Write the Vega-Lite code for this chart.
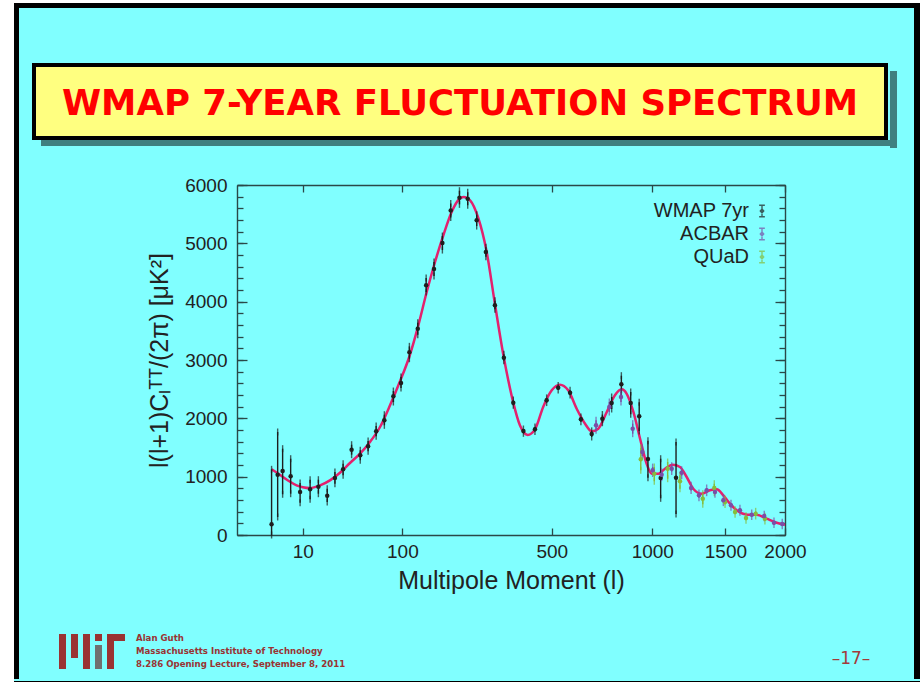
{
  "$schema": "https://vega.github.io/schema/vega-lite/v6.json",
  "background": "#80FFFF",
  "padding": 0,
  "config": {
    "view": {"stroke": null},
    "concat": {"spacing": 0},
    "font": "Liberation Sans",
    "axis": {
      "labelFont": "Liberation Sans", "labelFontSize": 19, "labelColor": "#222222",
      "titleFont": "Liberation Sans", "titleFontSize": 25, "titleFontWeight": "normal", "titleColor": "#222222",
      "grid": false, "domain": false, "domainColor": "#2a4848", "domainWidth": 1.4,
      "tickColor": "#2a4848", "tickWidth": 1.3, "labelFlush": false, "labelOverlap": false
    }
  },
  "datasets": {
    "blank": [{}],
    "title": [{"label": "WMAP 7-YEAR FLUCTUATION SPECTRUM"}],
    "foot": [{"label": "Alan Guth\nMassachusetts Institute of Technology\n8.286 Opening Lecture, September 8, 2011"}],
    "page": [{"label": "–17–"}],
    "curve": [
      {"l": 2, "v": 1126}, {"l": 4, "v": 1000}, {"l": 5.5, "v": 925}, {"l": 7.8, "v": 852}, {"l": 10, "v": 820},
      {"l": 13, "v": 806}, {"l": 17.9, "v": 852}, {"l": 23.7, "v": 937}, {"l": 30.6, "v": 1068}, {"l": 38.6, "v": 1234},
      {"l": 47.8, "v": 1394}, {"l": 58, "v": 1594}, {"l": 69.6, "v": 1851}, {"l": 82.4, "v": 2223}, {"l": 96.5, "v": 2635},
      {"l": 111, "v": 3060}, {"l": 126, "v": 3594}, {"l": 141, "v": 4165}, {"l": 157, "v": 4680}, {"l": 174, "v": 5137},
      {"l": 192, "v": 5536}, {"l": 210, "v": 5764}, {"l": 220, "v": 5795}, {"l": 236, "v": 5737}, {"l": 257, "v": 5440},
      {"l": 280, "v": 4860}, {"l": 304, "v": 3960}, {"l": 329, "v": 3100}, {"l": 345, "v": 2650}, {"l": 361, "v": 2270},
      {"l": 383, "v": 1880}, {"l": 410, "v": 1715}, {"l": 436, "v": 1810}, {"l": 467, "v": 2200}, {"l": 500, "v": 2480},
      {"l": 533, "v": 2575}, {"l": 568, "v": 2480}, {"l": 605, "v": 2165}, {"l": 643, "v": 1908}, {"l": 674, "v": 1777},
      {"l": 706, "v": 1823}, {"l": 748, "v": 2109}, {"l": 790, "v": 2395}, {"l": 826, "v": 2497}, {"l": 853, "v": 2420},
      {"l": 890, "v": 2109}, {"l": 928, "v": 1651}, {"l": 963, "v": 1251}, {"l": 996, "v": 1051}, {"l": 1037, "v": 1051},
      {"l": 1078, "v": 1137}, {"l": 1127, "v": 1205}, {"l": 1175, "v": 1166}, {"l": 1220, "v": 994}, {"l": 1265, "v": 794},
      {"l": 1324, "v": 708}, {"l": 1384, "v": 766}, {"l": 1434, "v": 783}, {"l": 1484, "v": 680}, {"l": 1535, "v": 537},
      {"l": 1588, "v": 423}, {"l": 1677, "v": 348}, {"l": 1752, "v": 348}, {"l": 1837, "v": 280}, {"l": 1925, "v": 211},
      {"l": 2000, "v": 177}
    ],
    "pts": [
      {"exp": "WMAP 7yr", "l": 2, "v": 183, "lo": 0, "hi": 1126},
      {"exp": "WMAP 7yr", "l": 3, "v": 1034, "lo": 309, "hi": 1766},
      {"exp": "WMAP 7yr", "l": 4, "v": 1097, "lo": 698, "hi": 1480},
      {"exp": "WMAP 7yr", "l": 6, "v": 1006, "lo": 708, "hi": 1308},
      {"exp": "WMAP 7yr", "l": 9, "v": 737, "lo": 554, "hi": 891},
      {"exp": "WMAP 7yr", "l": 13, "v": 783, "lo": 612, "hi": 948},
      {"exp": "WMAP 7yr", "l": 17, "v": 828, "lo": 708, "hi": 948},
      {"exp": "WMAP 7yr", "l": 22, "v": 674, "lo": 566, "hi": 794},
      {"exp": "WMAP 7yr", "l": 27, "v": 977, "lo": 879, "hi": 1080},
      {"exp": "WMAP 7yr", "l": 33, "v": 1126, "lo": 1023, "hi": 1222},
      {"exp": "WMAP 7yr", "l": 40, "v": 1463, "lo": 1377, "hi": 1548},
      {"exp": "WMAP 7yr", "l": 48, "v": 1366, "lo": 1280, "hi": 1452},
      {"exp": "WMAP 7yr", "l": 56, "v": 1520, "lo": 1435, "hi": 1611},
      {"exp": "WMAP 7yr", "l": 65, "v": 1777, "lo": 1692, "hi": 1868},
      {"exp": "WMAP 7yr", "l": 75, "v": 1966, "lo": 1880, "hi": 2062},
      {"exp": "WMAP 7yr", "l": 87, "v": 2377, "lo": 2280, "hi": 2468},
      {"exp": "WMAP 7yr", "l": 98, "v": 2605, "lo": 2520, "hi": 2708},
      {"exp": "WMAP 7yr", "l": 111, "v": 3131, "lo": 3022, "hi": 3234},
      {"exp": "WMAP 7yr", "l": 125, "v": 3537, "lo": 3434, "hi": 3640},
      {"exp": "WMAP 7yr", "l": 140, "v": 4280, "lo": 4165, "hi": 4405},
      {"exp": "WMAP 7yr", "l": 155, "v": 4560, "lo": 4440, "hi": 4680},
      {"exp": "WMAP 7yr", "l": 172, "v": 5005, "lo": 4885, "hi": 5125},
      {"exp": "WMAP 7yr", "l": 190, "v": 5565, "lo": 5445, "hi": 5685},
      {"exp": "WMAP 7yr", "l": 210, "v": 5781, "lo": 5668, "hi": 5902},
      {"exp": "WMAP 7yr", "l": 230, "v": 5764, "lo": 5651, "hi": 5874},
      {"exp": "WMAP 7yr", "l": 253, "v": 5394, "lo": 5296, "hi": 5490},
      {"exp": "WMAP 7yr", "l": 278, "v": 4851, "lo": 4770, "hi": 4931},
      {"exp": "WMAP 7yr", "l": 304, "v": 3937, "lo": 3869, "hi": 4017},
      {"exp": "WMAP 7yr", "l": 331, "v": 3039, "lo": 2987, "hi": 3097},
      {"exp": "WMAP 7yr", "l": 361, "v": 2268, "lo": 2223, "hi": 2314},
      {"exp": "WMAP 7yr", "l": 395, "v": 1783, "lo": 1743, "hi": 1817},
      {"exp": "WMAP 7yr", "l": 436, "v": 1812, "lo": 1775, "hi": 1850},
      {"exp": "WMAP 7yr", "l": 480, "v": 2309, "lo": 2270, "hi": 2350},
      {"exp": "WMAP 7yr", "l": 526, "v": 2525, "lo": 2485, "hi": 2565},
      {"exp": "WMAP 7yr", "l": 576, "v": 2440, "lo": 2400, "hi": 2480},
      {"exp": "WMAP 7yr", "l": 624, "v": 1983, "lo": 1940, "hi": 2025},
      {"exp": "WMAP 7yr", "l": 674, "v": 1731, "lo": 1680, "hi": 1785},
      {"exp": "WMAP 7yr", "l": 726, "v": 1994, "lo": 1925, "hi": 2065},
      {"exp": "WMAP 7yr", "l": 773, "v": 2263, "lo": 2160, "hi": 2366},
      {"exp": "WMAP 7yr", "l": 824, "v": 2583, "lo": 2434, "hi": 2731},
      {"exp": "WMAP 7yr", "l": 875, "v": 2263, "lo": 2069, "hi": 2451},
      {"exp": "WMAP 7yr", "l": 923, "v": 2034, "lo": 1783, "hi": 2275},
      {"exp": "WMAP 7yr", "l": 974, "v": 1303, "lo": 982, "hi": 1616},
      {"exp": "WMAP 7yr", "l": 1051, "v": 977, "lo": 629, "hi": 1308},
      {"exp": "WMAP 7yr", "l": 1149, "v": 982, "lo": 360, "hi": 1594},
      {"exp": "QUaD", "l": 932, "v": 1297, "lo": 1109, "hi": 1497},
      {"exp": "QUaD", "l": 1012, "v": 1051, "lo": 920, "hi": 1166},
      {"exp": "QUaD", "l": 1095, "v": 1137, "lo": 965, "hi": 1251},
      {"exp": "QUaD", "l": 1175, "v": 920, "lo": 794, "hi": 1023},
      {"exp": "QUaD", "l": 1332, "v": 622, "lo": 526, "hi": 708},
      {"exp": "QUaD", "l": 1416, "v": 806, "lo": 725, "hi": 879},
      {"exp": "QUaD", "l": 1497, "v": 566, "lo": 521, "hi": 611},
      {"exp": "QUaD", "l": 1575, "v": 394, "lo": 354, "hi": 434},
      {"exp": "QUaD", "l": 1663, "v": 291, "lo": 251, "hi": 331},
      {"exp": "QUaD", "l": 1743, "v": 366, "lo": 326, "hi": 406},
      {"exp": "QUaD", "l": 1822, "v": 280, "lo": 240, "hi": 320},
      {"exp": "ACBAR", "l": 695, "v": 1880, "lo": 1794, "hi": 1966},
      {"exp": "ACBAR", "l": 761, "v": 2194, "lo": 2108, "hi": 2280},
      {"exp": "ACBAR", "l": 822, "v": 2366, "lo": 2280, "hi": 2452},
      {"exp": "ACBAR", "l": 886, "v": 1823, "lo": 1737, "hi": 1909},
      {"exp": "ACBAR", "l": 941, "v": 1423, "lo": 1353, "hi": 1493},
      {"exp": "ACBAR", "l": 1002, "v": 1109, "lo": 1054, "hi": 1164},
      {"exp": "ACBAR", "l": 1057, "v": 1034, "lo": 984, "hi": 1084},
      {"exp": "ACBAR", "l": 1121, "v": 1137, "lo": 1087, "hi": 1187},
      {"exp": "ACBAR", "l": 1186, "v": 1069, "lo": 1019, "hi": 1119},
      {"exp": "ACBAR", "l": 1250, "v": 806, "lo": 761, "hi": 851},
      {"exp": "ACBAR", "l": 1305, "v": 680, "lo": 640, "hi": 720},
      {"exp": "ACBAR", "l": 1360, "v": 766, "lo": 726, "hi": 806},
      {"exp": "ACBAR", "l": 1421, "v": 737, "lo": 697, "hi": 777},
      {"exp": "ACBAR", "l": 1484, "v": 595, "lo": 555, "hi": 635},
      {"exp": "ACBAR", "l": 1543, "v": 509, "lo": 474, "hi": 544},
      {"exp": "ACBAR", "l": 1614, "v": 423, "lo": 388, "hi": 458},
      {"exp": "ACBAR", "l": 1710, "v": 348, "lo": 318, "hi": 378},
      {"exp": "ACBAR", "l": 1816, "v": 326, "lo": 296, "hi": 356},
      {"exp": "ACBAR", "l": 1901, "v": 211, "lo": 181, "hi": 241},
      {"exp": "ACBAR", "l": 1975, "v": 189, "lo": 159, "hi": 219}
    ]
  },
  "spacing": 0,
  "hconcat": [
    {"width": 14, "height": 682, "data": {"name": "blank"}, "view": {"fill": "#FFFFFF"}, "mark": {"type": "point", "size": 0, "opacity": 0, "strokeWidth": 0}},
    {
      "spacing": 0,
      "vconcat": [
        {"width": 906, "height": 3, "data": {"name": "blank"}, "view": {"fill": "#FFFFFF"}, "mark": {"type": "point", "size": 0, "opacity": 0, "strokeWidth": 0}},
        {"width": 906, "height": 5, "data": {"name": "blank"}, "view": {"fill": "#000000"}, "mark": {"type": "point", "size": 0, "opacity": 0, "strokeWidth": 0}},
        {
          "spacing": 0,
          "hconcat": [
            {"width": 5, "height": 671, "data": {"name": "blank"}, "view": {"fill": "#000000"}, "mark": {"type": "point", "size": 0, "opacity": 0, "strokeWidth": 0}},
            {
              "spacing": 0,
              "vconcat": [
                {"width": 895, "height": 55, "data": {"name": "blank"}, "mark": {"type": "point", "size": 0, "opacity": 0, "strokeWidth": 0}},
                {
                  "spacing": 0,
                  "hconcat": [
                    {"width": 13, "height": 83, "data": {"name": "blank"}, "mark": {"type": "point", "size": 0, "opacity": 0, "strokeWidth": 0}},
                    {
                      "spacing": 0,
                      "vconcat": [
                        {
                          "width": 852, "height": 73,
                          "data": {"name": "title"},
                          "view": {"fill": "#FFFF80", "stroke": "#000000", "strokeWidth": 4},
                          "mark": {"type": "text", "font": "DejaVu Sans", "fontWeight": "bold", "fontSize": 35.5, "color": "#FF0000", "align": "center", "baseline": "middle", "dy": 2},
                          "encoding": {"text": {"field": "label", "type": "nominal"}}
                        },
                        {
                          "spacing": 0,
                          "hconcat": [
                            {"width": 7, "height": 6, "data": {"name": "blank"}, "mark": {"type": "point", "size": 0, "opacity": 0, "strokeWidth": 0}},
                            {"width": 849, "height": 6, "data": {"name": "blank"}, "view": {"fill": "#3f8080"}, "mark": {"type": "point", "size": 0, "opacity": 0, "strokeWidth": 0}}
                          ]
                        }
                      ]
                    },
                    {
                      "spacing": 0,
                      "vconcat": [
                        {"width": 7, "height": 6, "data": {"name": "blank"}, "mark": {"type": "point", "size": 0, "opacity": 0, "strokeWidth": 0}},
                        {"width": 7, "height": 77, "data": {"name": "blank"}, "view": {"fill": "#3f8080"}, "mark": {"type": "point", "size": 0, "opacity": 0, "strokeWidth": 0}}
                      ]
                    }
                  ]
                },
                {
                  "width": 895, "height": 486,
                  "resolve": {"axis": {"x": "independent", "y": "independent"}},
                  "layer": [
                    {
                      "data": {"name": "curve"},
                      "mark": {"type": "line", "color": "#e3216e", "strokeWidth": 2.5, "interpolate": "monotone"},
                      "encoding": {
                        "x": {"field": "l", "type": "quantitative",
                          "scale": {"type": "pow", "exponent": 0.4, "domain": [0, 2000], "range": [218, 766], "nice": false, "zero": false},
                          "axis": {"orient": "bottom", "offset": -99, "values": [10, 100, 500, 1000, 1500, 2000], "format": "d", "ticks": false, "labelPadding": 7, "domain": true, "title": "Multipole Moment (l)", "titlePadding": 7}},
                        "y": {"field": "v", "type": "quantitative",
                          "scale": {"domain": [0, 6000], "range": [387, 37], "nice": false},
                          "axis": {"orient": "left", "offset": -218, "values": [0, 1000, 2000, 3000, 4000, 5000, 6000], "format": "d", "ticks": false, "labelPadding": 10, "domain": true, "title": "l(l+1)Cₗᵀᵀ/(2π) [μK²]", "titlePadding": 12}}
                      }
                    },
                    {
                      "data": {"name": "pts"},
                      "mark": {"type": "rule", "strokeWidth": 1.4},
                      "encoding": {
                        "x": {"field": "l", "type": "quantitative",
                          "scale": {"type": "pow", "exponent": 0.4, "domain": [0, 2000], "range": [218, 766], "nice": false, "zero": false},
                          "axis": {"orient": "bottom", "offset": -99, "values": [10, 100, 500, 1000, 1500, 2000], "labels": false, "tickSize": -7, "title": null}},
                        "y": {"field": "lo", "type": "quantitative",
                          "scale": {"domain": [0, 6000], "range": [387, 37], "nice": false},
                          "axis": {"orient": "left", "offset": -218, "values": [0, 1000, 2000, 3000, 4000, 5000, 6000], "labels": false, "tickSize": -10, "title": null}},
                        "y2": {"field": "hi"},
                        "color": {"field": "exp", "type": "nominal",
                          "scale": {"domain": ["WMAP 7yr", "ACBAR", "QUaD"], "range": ["#1e1e1e", "#7a4ea6", "#86bd3c"]},
                          "legend": {"orient": "none", "legendX": 752, "legendY": 201, "title": null,
                            "labelFont": "Liberation Sans", "labelFontSize": 20, "labelColor": "#222222",
                            "labelAlign": "right", "labelOffset": -23,
                            "symbolType": "M0,-1V1M-0.5,-1H0.5M-0.5,1H0.5M0,-0.35L0.3,0L0,0.35L-0.3,0Z",
                            "symbolSize": 130, "symbolStrokeWidth": 1.4, "rowPadding": 3, "padding": 0}}
                      }
                    },
                    {
                      "data": {"name": "pts"},
                      "mark": {"type": "tick", "orient": "vertical", "size": 7, "thickness": 1.4},
                      "encoding": {
                        "x": {"field": "l", "type": "quantitative",
                          "scale": {"type": "pow", "exponent": 0.4, "domain": [0, 2000], "range": [218, 766], "nice": false, "zero": false},
                          "axis": {"orient": "top", "offset": -37, "values": [10, 100, 500, 1000, 1500, 2000], "labels": false, "tickSize": -7, "domain": true, "title": null}},
                        "y": {"field": "lo", "type": "quantitative",
                          "scale": {"domain": [0, 6000], "range": [387, 37], "nice": false},
                          "axis": {"orient": "left", "offset": -218, "values": [0, 200, 400, 600, 800, 1000, 1200, 1400, 1600, 1800, 2000, 2200, 2400, 2600, 2800, 3000, 3200, 3400, 3600, 3800, 4000, 4200, 4400, 4600, 4800, 5000, 5200, 5400, 5600, 5800, 6000], "labels": false, "tickSize": -6, "title": null}},
                        "color": {"field": "exp", "type": "nominal"}
                      }
                    },
                    {
                      "data": {"name": "pts"},
                      "mark": {"type": "tick", "orient": "vertical", "size": 7, "thickness": 1.4},
                      "encoding": {
                        "x": {"field": "l", "type": "quantitative",
                          "scale": {"type": "pow", "exponent": 0.4, "domain": [0, 2000], "range": [218, 766], "nice": false, "zero": false},
                          "axis": null},
                        "y": {"field": "hi", "type": "quantitative",
                          "scale": {"domain": [0, 6000], "range": [387, 37], "nice": false},
                          "axis": {"orient": "right", "offset": -129, "values": [0, 1000, 2000, 3000, 4000, 5000, 6000], "labels": false, "tickSize": -10, "domain": true, "title": null}},
                        "color": {"field": "exp", "type": "nominal"}
                      }
                    },
                    {
                      "data": {"name": "pts"},
                      "mark": {"type": "point", "filled": true, "size": 20, "opacity": 1},
                      "encoding": {
                        "x": {"field": "l", "type": "quantitative",
                          "scale": {"type": "pow", "exponent": 0.4, "domain": [0, 2000], "range": [218, 766], "nice": false, "zero": false},
                          "axis": null},
                        "y": {"field": "v", "type": "quantitative",
                          "scale": {"domain": [0, 6000], "range": [387, 37], "nice": false},
                          "axis": {"orient": "right", "offset": -129, "values": [0, 200, 400, 600, 800, 1000, 1200, 1400, 1600, 1800, 2000, 2200, 2400, 2600, 2800, 3000, 3200, 3400, 3600, 3800, 4000, 4200, 4400, 4600, 4800, 5000, 5200, 5400, 5600, 5800, 6000], "labels": false, "tickSize": -6, "title": null}},
                        "color": {"field": "exp", "type": "nominal"}
                      }
                    }
                  ]
                },
                {
                  "spacing": 0,
                  "hconcat": [
                    {"width": 40, "height": 47, "data": {"name": "blank"}, "mark": {"type": "point", "size": 0, "opacity": 0, "strokeWidth": 0}},
                    {"width": 7, "height": 35, "data": {"name": "blank"}, "view": {"fill": "#9a3333"}, "mark": {"type": "point", "size": 0, "opacity": 0, "strokeWidth": 0}},
                    {"width": 5, "height": 35, "data": {"name": "blank"}, "mark": {"type": "point", "size": 0, "opacity": 0, "strokeWidth": 0}},
                    {"width": 7, "height": 24, "data": {"name": "blank"}, "view": {"fill": "#9a3333"}, "mark": {"type": "point", "size": 0, "opacity": 0, "strokeWidth": 0}},
                    {"width": 5, "height": 35, "data": {"name": "blank"}, "mark": {"type": "point", "size": 0, "opacity": 0, "strokeWidth": 0}},
                    {"width": 7, "height": 35, "data": {"name": "blank"}, "view": {"fill": "#9a3333"}, "mark": {"type": "point", "size": 0, "opacity": 0, "strokeWidth": 0}},
                    {"width": 5, "height": 35, "data": {"name": "blank"}, "mark": {"type": "point", "size": 0, "opacity": 0, "strokeWidth": 0}},
                    {
                      "spacing": 0,
                      "vconcat": [
                        {"width": 7, "height": 7, "data": {"name": "blank"}, "view": {"fill": "#9a3333"}, "mark": {"type": "point", "size": 0, "opacity": 0, "strokeWidth": 0}},
                        {"width": 7, "height": 4, "data": {"name": "blank"}, "mark": {"type": "point", "size": 0, "opacity": 0, "strokeWidth": 0}},
                        {"width": 7, "height": 24, "data": {"name": "blank"}, "view": {"fill": "#707070"}, "mark": {"type": "point", "size": 0, "opacity": 0, "strokeWidth": 0}}
                      ]
                    },
                    {"width": 5, "height": 35, "data": {"name": "blank"}, "mark": {"type": "point", "size": 0, "opacity": 0, "strokeWidth": 0}},
                    {
                      "spacing": 0,
                      "vconcat": [
                        {"width": 18, "height": 7, "data": {"name": "blank"}, "view": {"fill": "#9a3333"}, "mark": {"type": "point", "size": 0, "opacity": 0, "strokeWidth": 0}},
                        {"width": 7, "height": 28, "data": {"name": "blank"}, "view": {"fill": "#9a3333"}, "mark": {"type": "point", "size": 0, "opacity": 0, "strokeWidth": 0}}
                      ]
                    },
                    {"width": 11, "height": 35, "data": {"name": "blank"}, "mark": {"type": "point", "size": 0, "opacity": 0, "strokeWidth": 0}},
                    {
                      "width": 695, "height": 8,
                      "data": {"name": "foot"},
                      "mark": {"type": "text", "align": "left", "baseline": "middle", "font": "DejaVu Sans", "fontWeight": "bold", "fontSize": 8.6, "lineHeight": 13, "lineBreak": "\n", "color": "#993333"},
                      "encoding": {
                        "x": {"datum": 0, "type": "quantitative", "scale": {"domain": [0, 1]}, "axis": null},
                        "text": {"field": "label", "type": "nominal"}
                      }
                    },
                    {
                      "width": 40, "height": 47,
                      "data": {"name": "page"},
                      "mark": {"type": "text", "align": "center", "baseline": "middle", "font": "DejaVu Sans", "fontSize": 17, "color": "#a33a3a", "dy": 1.5},
                      "encoding": {"text": {"field": "label", "type": "nominal"}}
                    }
                  ]
                }
              ]
            },
            {"width": 6, "height": 671, "data": {"name": "blank"}, "view": {"fill": "#000000"}, "mark": {"type": "point", "size": 0, "opacity": 0, "strokeWidth": 0}}
          ]
        },
        {"width": 906, "height": 3, "data": {"name": "blank"}, "view": {"fill": "#000000"}, "mark": {"type": "point", "size": 0, "opacity": 0, "strokeWidth": 0}}
      ]
    }
  ]
}
